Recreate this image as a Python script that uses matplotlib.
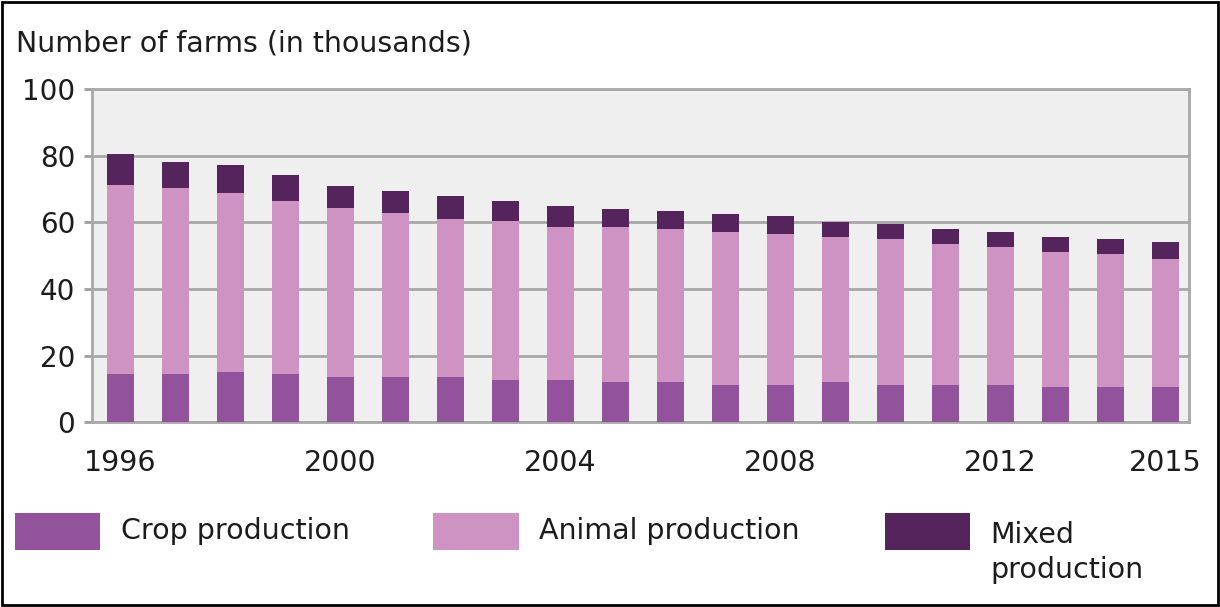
import numpy as np
import matplotlib.pyplot as plt
from matplotlib.patches import Rectangle

# farms by type, thousands
years = list(range(1996, 2016))
crop = [14.4, 14.4, 15.2, 14.4, 13.6, 13.6, 13.6, 12.7, 12.7, 12.0,
        12.0, 11.2, 11.2, 12.0, 11.2, 11.2, 11.2, 10.5, 10.5, 10.5]
animal = [56.8, 56.0, 53.7, 52.1, 50.6, 49.1, 47.5, 47.6, 46.0, 46.7,
          46.0, 46.0, 45.3, 43.7, 43.7, 42.2, 41.5, 40.7, 39.9, 38.4]
mixed = [9.2, 7.6, 8.3, 7.7, 6.8, 6.8, 6.9, 6.2, 6.2, 5.3,
         5.4, 5.4, 5.4, 4.5, 4.7, 4.5, 4.5, 4.5, 4.5, 5.3]
series_names = ['Crop production', 'Animal production', 'Mixed\nproduction']
colors = ['#92529c', '#cf93c3', '#55245c']
xtick_years = [1996, 2000, 2004, 2008, 2012, 2015]
yticks = [0, 20, 40, 60, 80, 100]

plt.rcParams['font.family'] = ['DejaVu Sans']
txt_color = '#1c1c1c'

fig = plt.figure(figsize=(12.2, 6.07), dpi=100)
ax = fig.add_axes([0.0754, 0.3043, 0.8992, 0.5491])
ax.set_facecolor('#efefef')

x = np.arange(len(years))
bottom = np.zeros(len(years))
for vals, c in zip([crop, animal, mixed], colors):
    ax.bar(x, vals, width=0.5, bottom=bottom, color=c, zorder=3)
    bottom += np.array(vals)

ax.set_xlim(-0.518, len(years) - 1 + 0.427)
ax.set_ylim(0, 100)
ax.set_yticks(yticks)
ax.set_yticklabels([str(v) for v in yticks], fontsize=20, color=txt_color)
ax.set_xticks([years.index(y) for y in xtick_years])
ax.set_xticklabels([str(y) for y in xtick_years], fontsize=20.5, color=txt_color)
ax.tick_params(axis='x', length=0, pad=19)
ax.tick_params(axis='y', length=6, width=2, color='#a0a0a0', pad=6)
ax.grid(axis='y', color='#a8a8a8', linewidth=2, zorder=1)
for s in ax.spines.values():
    s.set_color('#a8a8a8')
    s.set_linewidth(2)

fig.text(0.013, 0.928, 'Number of farms (in thousands)', fontsize=20.5,
         color=txt_color, va='center', ha='left')

# legend drawn by hand: swatch + label
legend_x = [0.012, 0.355, 0.725]
for lx, name, c in zip(legend_x, series_names, colors):
    fig.add_artist(Rectangle((lx, 0.094), 0.070, 0.061, transform=fig.transFigure,
                             facecolor=c, edgecolor='none'))
    ty = 0.125 if '\n' not in name else 0.090
    fig.text(lx + 0.087, ty, name, fontsize=20.5, color=txt_color,
             va='center', ha='left', linespacing=1.3)

# outer frame
fig.add_artist(Rectangle((0.002, 0.003), 0.996, 0.994, transform=fig.transFigure,
                         facecolor='none', edgecolor='black', linewidth=2))

fig.savefig('out.png', dpi=100)
